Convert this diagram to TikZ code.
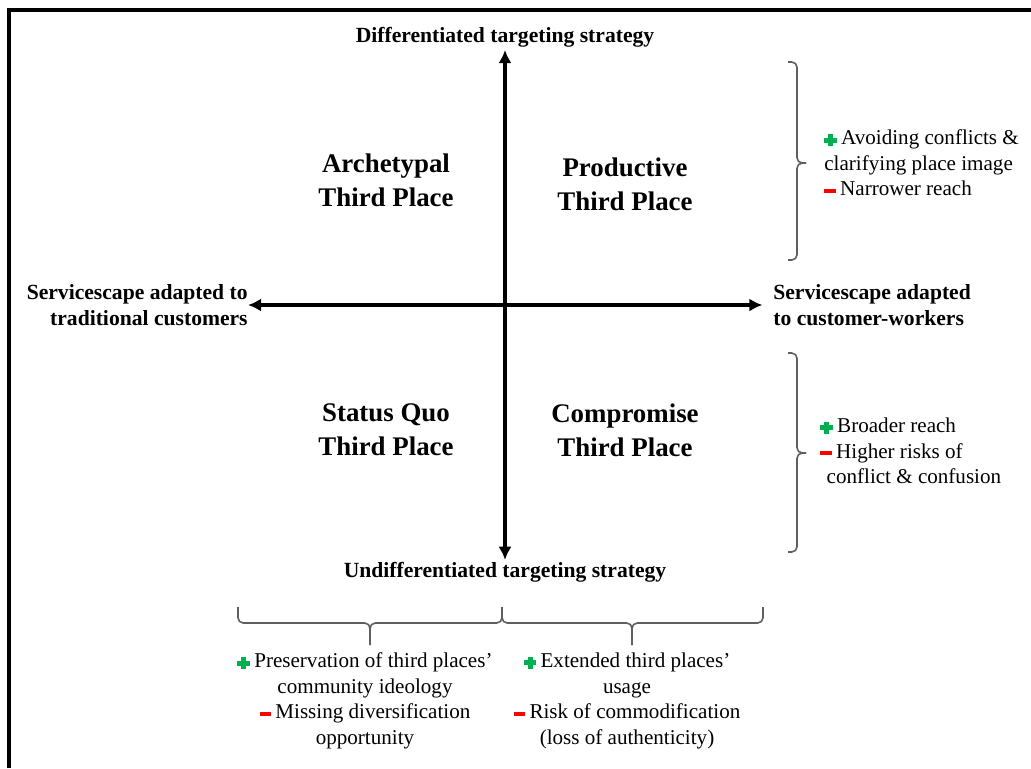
\documentclass[tikz,border=0pt]{standalone}
\usepackage{fontspec}
\setmainfont{Liberation Serif}
\usetikzlibrary{arrows.meta}
\definecolor{plusgreen}{RGB}{0,176,80}
\definecolor{minusred}{RGB}{255,0,0}
\definecolor{bracegray}{RGB}{95,95,95}
\newcommand{\pro}{\textcolor{plusgreen}{\rlap{\rule[0.1em]{0.6em}{0.24em}}\hspace{0.18em}\rule[-0.08em]{0.24em}{0.6em}\hspace{0.18em}}\hspace{0.2em}}
\newcommand{\con}{\textcolor{minusred}{\rule[0.16em]{0.55em}{0.17em}}\hspace{0.2em}}
\begin{document}
\begin{tikzpicture}[x=0.02cm,y=-0.02cm,
    quad/.style={font=\fontsize{15.3}{19.3}\selectfont\bfseries, align=center, inner sep=0pt},
    axlabel/.style={font=\fontsize{12.3}{14.8}\selectfont\bfseries, inner sep=0pt},
    note/.style={font=\fontsize{12}{14.6}\selectfont, inner sep=0pt},
    axis/.style={line width=2pt, {Latex[length=7.5pt,width=7.5pt]}-{Latex[length=7.5pt,width=7.5pt]}},
    curly/.style={draw=bracegray, line width=0.9pt, rounded corners=3pt}]
  \useasboundingbox (0,0) rectangle (1031,768);
  \draw[line width=1.9pt] (9,768) -- (9,10) -- (1031,10);
  % axes
  \draw (505,37) node[axlabel] (diff) {Differentiated targeting strategy};
  \draw (505,572) node[axlabel] (undiff) {Undifferentiated targeting strategy};
  \draw (248,305) node[axlabel, anchor=east, align=right] (trad) {Servicescape adapted to\\traditional customers};
  \draw (773,305) node[axlabel, anchor=west, align=left] (cw) {Servicescape adapted\\to customer-workers};
  \draw[axis, shorten <=1.5pt, shorten >=1pt] (diff) -- (undiff);
  \draw[axis, shorten <=0pt, shorten >=6pt] (trad.east) -- (cw.west);
  % quadrants
  \draw (386,180) node[quad] (arch) {Archetypal\\Third Place};
  \draw (625,184) node[quad] (prod) {Productive\\Third Place};
  \draw (386,430) node[quad] (quo) {Status Quo\\Third Place};
  \draw (625,430) node[quad] (comp) {Compromise\\Third Place};
  % braces
  \coordinate (upA) at (788,62);  \coordinate (upB) at (788,260);  \coordinate (upT) at (797,163);
  \coordinate (loA) at (788,353); \coordinate (loB) at (788,552);  \coordinate (loT) at (797,453);
  \coordinate (leA) at (238,607); \coordinate (mid) at (502,607);  \coordinate (leT) at (370,623);
  \coordinate (riB) at (763,607); \coordinate (riT) at (632,623);
  \draw[curly] (upA) -| (upT) -- ++(9,0);
  \draw[curly] (upB) -| (upT) -- ++(9,0);
  \draw[curly] (loA) -| (loT) -- ++(9,0);
  \draw[curly] (loB) -| (loT) -- ++(9,0);
  \draw[curly] (leA) |- (leT) -- ++(0,22);
  \draw[curly] (mid) |- (leT) -- ++(0,22);
  \draw[curly] (mid) |- (riT) -- ++(0,22);
  \draw[curly] (riB) |- (riT) -- ++(0,22);
  % pros and cons
  \draw (824,163) node[note, anchor=west, align=left] (upnote) {\pro Avoiding conflicts \&\\clarifying place image\\\con Narrower reach};
  \draw (820,451) node[note, anchor=west, align=left] (lonote) {\pro Broader reach\\\con Higher risks of\\\hspace{0.3em}conflict \& confusion};
  \draw (365,701) node[note, align=center] (lenote) {\pro Preservation of third places'\\community ideology\\\con Missing diversification\\opportunity};
  \draw (627,701) node[note, align=center] (rinote) {\pro Extended third places'\\usage\\\con Risk of commodification\\(loss of authenticity)};
\end{tikzpicture}
\end{document}
